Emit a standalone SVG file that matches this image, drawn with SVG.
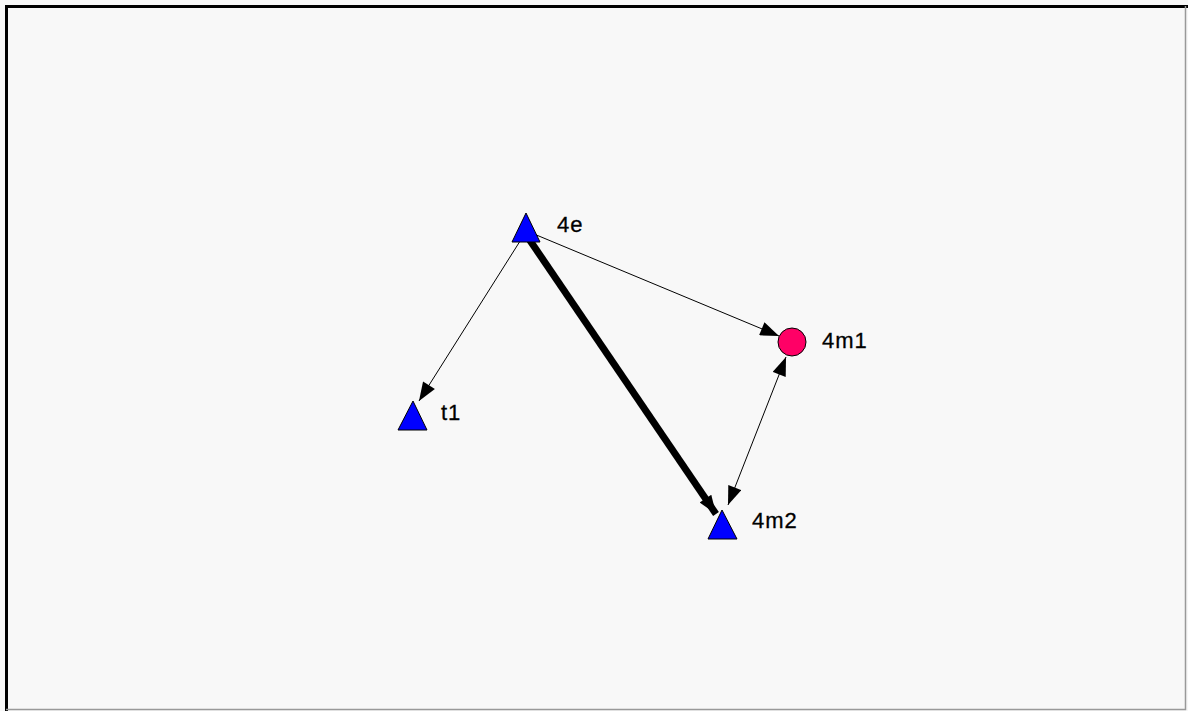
<svg xmlns="http://www.w3.org/2000/svg" width="1188" height="711" viewBox="0 0 1188 711">
<defs>
<style>
.lbl{font-family:"Liberation Sans",Arial,sans-serif;font-size:22px;fill:#000;letter-spacing:1px;stroke:#000;stroke-width:0.3}
.tri{fill:#0000ff;stroke:#000;stroke-width:1}
.e{stroke:#000;fill:none}
</style>
<marker id="ah" markerUnits="userSpaceOnUse" markerWidth="20" markerHeight="14" refX="16" refY="6" orient="auto-start-reverse" viewBox="0 0 16 12">
<path d="M0,0 L16,6 L0,12 Z" fill="#000"/>
</marker>
</defs>
<rect x="0" y="0" width="1188" height="711" fill="#f8f8f8"/>
<path d="M6.5,711 V6.5 H1188" stroke="#000" stroke-width="3" fill="none"/>
<path d="M1185.5,6 V709.5 H6" stroke="#999" stroke-width="1.5" fill="none"/>
<g id="connectors">
<line class="e" x1="522" y1="238" x2="419" y2="401" stroke-width="1" marker-end="url(#ah)"/>
<line class="e" x1="534" y1="234" x2="779" y2="336" stroke-width="1" marker-end="url(#ah)"/>
<line class="e" x1="529" y1="239" x2="716" y2="514" stroke-width="7" marker-end="url(#ah)"/>
<line class="e" x1="786" y1="357" x2="728" y2="505" stroke-width="1" marker-start="url(#ah)" marker-end="url(#ah)"/>
</g>
<g id="node-4e">
<polygon class="tri" points="526,213 540,242 512,242"/>
<text class="lbl" x="557" y="232">4e</text>
</g>
<g id="node-t1">
<polygon class="tri" points="413,401 427,430 398,430"/>
<text class="lbl" x="441" y="420">t1</text>
</g>
<g id="node-4m2">
<polygon class="tri" points="722,510 737,539 708,539"/>
<text class="lbl" x="752" y="528">4m2</text>
</g>
<g id="node-4m1">
<circle cx="792" cy="342" r="14" fill="#ff0066" stroke="#000" stroke-width="1"/>
<text class="lbl" x="822" y="348">4m1</text>
</g>
</svg>
